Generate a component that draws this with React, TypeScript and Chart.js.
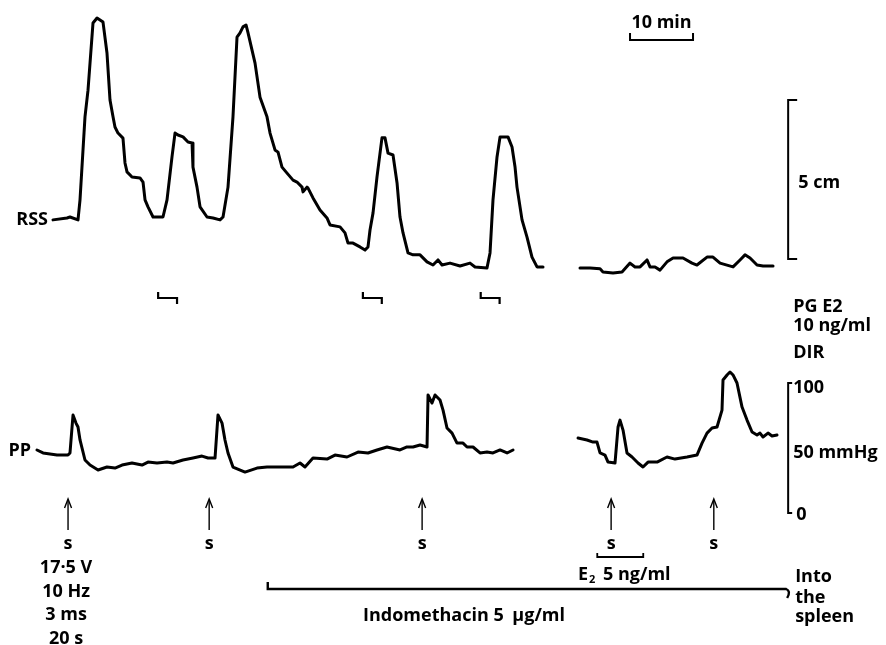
import { useEffect, useRef } from "react";
import { Chart, registerables } from "chart.js";

Chart.register(...registerables);

// ---- Data (time in minutes, RSS in cm, PP in mmHg) ----
const rssTime1 = [8.41, 10.63, 11.11, 12.38, 12.7, 13.49, 13.97, 14.76, 15.4, 16.35, 16.98, 17.46, 17.94, 18.25, 18.73, 19.52, 19.84, 20.16, 20.95, 22.22, 22.7, 23.02, 23.49, 24.29, 25.87, 26.51, 27.3, 27.78, 28.25, 29.05, 29.84, 30.48, 30.63, 31.27, 31.75, 32.86, 33.81, 34.92, 35.4, 36.19, 36.98, 37.62, 38.1, 38.57, 39.05, 39.37, 40.48, 41.27, 42.38, 42.86, 43.65, 44.13, 44.76, 45.56, 46.51, 47.14, 47.94, 48.1, 48.73, 48.89, 49.68, 50.79, 51.9, 52.38, 53.97, 54.76, 55.24, 56.03, 57.14, 57.94, 58.41, 58.73, 59.21, 59.84, 60.32, 60.63, 61.11, 61.59, 62.38, 63.02, 63.49, 63.97, 64.76, 65.56, 66.67, 67.78, 68.73, 69.52, 70.16, 71.43, 73.02, 74.6, 75.4, 77.3, 77.78, 78.25, 78.89, 79.37, 80.63, 81.27, 81.75, 82.06, 82.86, 83.65, 84.44, 85.24, 86.19];
const rssCm1 = [1.23, 1.29, 1.32, 1.23, 1.86, 4.47, 5.31, 7.42, 7.58, 7.45, 6.48, 5.0, 4.47, 4.15, 3.96, 3.8, 3.02, 2.74, 2.58, 2.55, 2.42, 1.86, 1.64, 1.32, 1.32, 1.86, 3.21, 3.96, 3.9, 3.84, 3.68, 3.65, 2.89, 2.26, 1.64, 1.32, 1.29, 1.23, 1.32, 2.26, 4.47, 6.98, 7.11, 7.3, 7.36, 7.11, 6.16, 5.09, 4.47, 3.96, 3.43, 3.36, 2.89, 2.7, 2.48, 2.42, 2.26, 2.11, 2.26, 2.23, 1.92, 1.54, 1.29, 1.07, 1.01, 0.82, 0.5, 0.5, 0.38, 0.28, 0.38, 0.91, 1.45, 2.58, 3.33, 3.81, 3.81, 3.33, 3.27, 2.39, 1.32, 0.82, 0.19, 0.13, 0.13, -0.09, -0.19, -0.03, -0.19, -0.13, -0.22, -0.13, -0.25, -0.28, 0.19, 1.86, 3.21, 3.84, 3.84, 3.52, 2.89, 2.26, 1.23, 0.69, 0.06, -0.25, -0.25];

const rssTime2 = [92.06, 93.65, 95.24, 95.71, 97.3, 98.73, 100.0, 100.79, 101.59, 102.7, 103.17, 103.97, 104.76, 105.87, 106.83, 108.41, 109.84, 110.63, 112.22, 113.17, 114.29, 116.35, 117.46, 118.25, 119.05, 120.16, 121.11, 122.7];
const rssCm2 = [-0.28, -0.28, -0.31, -0.41, -0.44, -0.41, -0.13, -0.25, -0.25, -0.03, -0.25, -0.25, -0.35, -0.09, 0.03, 0.03, -0.13, -0.19, 0.06, 0.06, -0.13, -0.25, -0.03, 0.13, 0.03, -0.19, -0.22, -0.22];

const ppTime1 = [5.87, 6.83, 9.05, 10.79, 11.11, 11.59, 12.06, 12.38, 12.7, 13.49, 14.29, 15.56, 16.98, 18.25, 19.37, 20.95, 22.54, 23.49, 24.92, 26.51, 27.46, 29.05, 30.63, 32.06, 33.02, 34.13, 34.6, 35.24, 35.71, 36.19, 36.98, 38.89, 40.79, 42.38, 44.44, 46.51, 47.62, 48.41, 49.68, 51.9, 53.17, 55.08, 56.83, 58.41, 59.84, 61.43, 63.49, 64.6, 65.56, 66.67, 67.78, 67.94, 68.57, 69.05, 69.84, 70.32, 70.95, 71.75, 72.54, 73.49, 74.13, 75.08, 76.19, 77.3, 78.25, 79.37, 80.48, 81.43];
const ppMmHg1 = [48.5, 46.2, 44.6, 44.6, 46.2, 75.4, 69.2, 66.2, 56.2, 40.8, 36.9, 33.1, 35.4, 34.6, 36.9, 38.5, 36.9, 39.2, 38.5, 39.2, 38.5, 40.8, 42.3, 43.8, 42.3, 42.3, 75.4, 69.2, 56.2, 46.2, 35.4, 31.5, 34.6, 35.4, 35.4, 35.4, 38.5, 35.4, 42.3, 41.5, 44.6, 43.1, 46.9, 46.2, 48.5, 50.8, 48.5, 50.8, 50.8, 52.3, 50.8, 90.8, 84.6, 90.8, 86.9, 79.2, 65.4, 61.5, 53.8, 53.8, 50.8, 50.8, 46.2, 46.9, 46.2, 48.5, 46.2, 48.5];

const ppTime2 = [91.75, 93.17, 94.13, 94.76, 95.24, 96.03, 96.51, 97.62, 98.1, 98.41, 98.89, 99.52, 100.32, 101.27, 102.06, 102.86, 104.29, 105.87, 107.14, 109.05, 110.63, 111.43, 112.22, 113.02, 113.81, 114.6, 114.76, 115.4, 115.87, 116.35, 116.98, 117.78, 118.57, 119.37, 120.16, 120.63, 121.11, 121.9, 122.54, 123.33];
const ppMmHg2 = [57.7, 56.2, 54.6, 54.6, 46.2, 44.6, 39.2, 38.5, 66.2, 71.5, 63.8, 46.2, 43.1, 38.5, 35.4, 39.2, 39.2, 43.1, 41.5, 43.1, 44.6, 53.8, 61.5, 65.4, 66.2, 79.2, 102.3, 106.2, 108.5, 106.2, 100.0, 81.5, 71.5, 62.3, 60.0, 61.5, 58.5, 61.5, 59.2, 60.0];

// Events (minutes)
const stimTimes = [10.8, 33.2, 67.0, 97.0, 113.3];
const pgE2Starts = [25.1, 57.6, 76.3];
const pgE2Duration = 3;
const e2Infusion = [94.8, 102.1];
const indomethacinInfusion = [42.5, 125.1];
const timeBarMin = [100, 110];
const calibTime = 125.1;
const rssCalibCm = [0, 5];
const ppCalibMmHg = [0, 100];
const stimParams = ["17·5 V", "10 Hz", "3 ms", "20 s"];

const FONT = "bold 18px 'Open Sans', Lato, sans-serif";
const SMALL_FONT = "bold 11px 'Open Sans', Lato, sans-serif";

const pairs = (ts: number[], vs: number[]) => ts.map((t, i) => ({ x: t, y: vs[i] }));

const annotationPlugin = {
  id: "annotations",
  afterDraw(chart: any) {
    const ctx = chart.ctx as CanvasRenderingContext2D;
    const sx = chart.scales.x;
    const sr = chart.scales.yR;
    const sp = chart.scales.yP;
    const X = (t: number) => sx.getPixelForValue(t);
    ctx.save();
    ctx.strokeStyle = "#000";
    ctx.fillStyle = "#000";
    ctx.lineJoin = "miter";
    const line = (pts: number[][], w: number) => {
      ctx.beginPath();
      ctx.lineWidth = w;
      pts.forEach(([a, b], i) => (i ? ctx.lineTo(a, b) : ctx.moveTo(a, b)));
      ctx.stroke();
    };
    const text = (s: string, x: number, y: number, align: CanvasTextAlign = "left", font = FONT) => {
      ctx.font = font;
      ctx.textAlign = align;
      ctx.textBaseline = "alphabetic";
      ctx.fillText(s, x, y);
    };

    // trace labels
    text("RSS", 48, 225, "right");
    text("PP", 31, 456, "right");

    // 10 min bar
    const t0 = X(timeBarMin[0]);
    const t1 = X(timeBarMin[1]);
    line([[t0, 33], [t0, 40], [t1, 40], [t1, 33]], 2);
    text("10 min", (t0 + t1) / 2, 28, "center");

    // RSS calibration 5 cm
    const cx = X(calibTime);
    const r0 = sr.getPixelForValue(rssCalibCm[0]);
    const r1 = sr.getPixelForValue(rssCalibCm[1]);
    line([[cx + 9, r1], [cx, r1], [cx, r0], [cx + 9, r0]], 2);
    text("5 cm", cx + 10, 188);

    // PG E2 markers
    pgE2Starts.forEach((s) => {
      const a = X(s);
      const b = X(s + pgE2Duration);
      line([[a, 292], [a, 298], [b, 298], [b, 304]], 2.2);
    });
    text("PG E2", cx + 5, 312);
    text("10 ng/ml", cx + 5, 331);
    text("DIR", cx + 5, 358);

    // PP calibration
    const p0 = sp.getPixelForValue(ppCalibMmHg[0]);
    const p1 = sp.getPixelForValue(ppCalibMmHg[1]);
    line([[cx + 4, p1], [cx, p1], [cx, p0], [cx + 4, p0]], 2);
    text("100", cx + 5, p1 + 10);
    text("50 mmHg", cx + 5, 458);
    text("0", cx + 8, p0 + 7);

    // stimulation arrows
    stimTimes.forEach((t) => {
      const a = X(t);
      line([[a, 530], [a, 500]], 1.4);
      line([[a - 3.5, 508], [a, 499], [a + 3.5, 508]], 1.4);
      text("s", a, 549, "center");
    });
    const sp0 = X(stimTimes[0]) - 2;
    stimParams.forEach((s, i) => text(s, sp0, 573 + i * 23.5, "center"));

    // E2 infusion
    const e0 = X(e2Infusion[0]);
    const e1 = X(e2Infusion[1]);
    line([[e0, 553], [e0, 557], [e1, 557], [e1, 553]], 1.8);
    ctx.font = FONT;
    const ew = ctx.measureText("E").width;
    text("E", 578, 580);
    text("2", 578 + ew + 1, 583, "left", SMALL_FONT);
    text("5 ng/ml", 603, 580);

    // Indomethacin infusion
    const i0 = X(indomethacinInfusion[0]);
    const i1 = X(indomethacinInfusion[1]);
    ctx.beginPath();
    ctx.lineWidth = 2.4;
    ctx.moveTo(i0, 582);
    ctx.lineTo(i0, 589);
    ctx.lineTo(i1 - 2, 589);
    ctx.quadraticCurveTo(i1 + 3, 591, i1 - 1, 598);
    ctx.stroke();
    text("Indomethacin 5 ", 363, 621);
    ctx.font = FONT;
    const w = ctx.measureText("Indomethacin 5 ").width;
    text("\u00B5g/ml", 363 + w + 4, 621);

    text("Into", i1 + 7, 582);
    text("the", i1 + 7, 603);
    text("spleen", i1 + 7, 622);

    ctx.restore();
  },
};

export default function App() {
  const ref = useRef<HTMLCanvasElement | null>(null);
  useEffect(() => {
    if (!ref.current) return;
    const traceStyle = {
      borderColor: "#000",
      borderWidth: 3,
      pointRadius: 0,
      tension: 0,
      fill: false,
      borderJoinStyle: "round" as const,
      borderCapStyle: "round" as const,
    };
    const chart = new Chart(ref.current, {
      type: "line",
      data: {
        datasets: [
          { label: "RSS a", data: pairs(rssTime1, rssCm1), yAxisID: "yR", ...traceStyle },
          { label: "RSS b", data: pairs(rssTime2, rssCm2), yAxisID: "yR", ...traceStyle },
          { label: "PP a", data: pairs(ppTime1, ppMmHg1), yAxisID: "yP", ...traceStyle },
          { label: "PP b", data: pairs(ppTime2, ppMmHg2), yAxisID: "yP", ...traceStyle },
        ],
      },
      options: {
        animation: false,
        responsive: false,
        layout: { padding: 0 },
        plugins: { legend: { display: false }, tooltip: { enabled: false } },
        scales: {
          x: { type: "linear", min: 0, max: 140.63, display: false },
          yR: { type: "linear", min: -12.14, max: 8.145, display: false },
          yP: { type: "linear", min: -101.5, max: 394.6, display: false },
        },
      },
      plugins: [annotationPlugin],
    });
    return () => chart.destroy();
  }, []);
  return (
    <div style={{ position: "absolute", left: 0, top: 0, width: 886, height: 645, background: "#fff" }}>
      <canvas ref={ref} width={886} height={645} />
    </div>
  );
}
